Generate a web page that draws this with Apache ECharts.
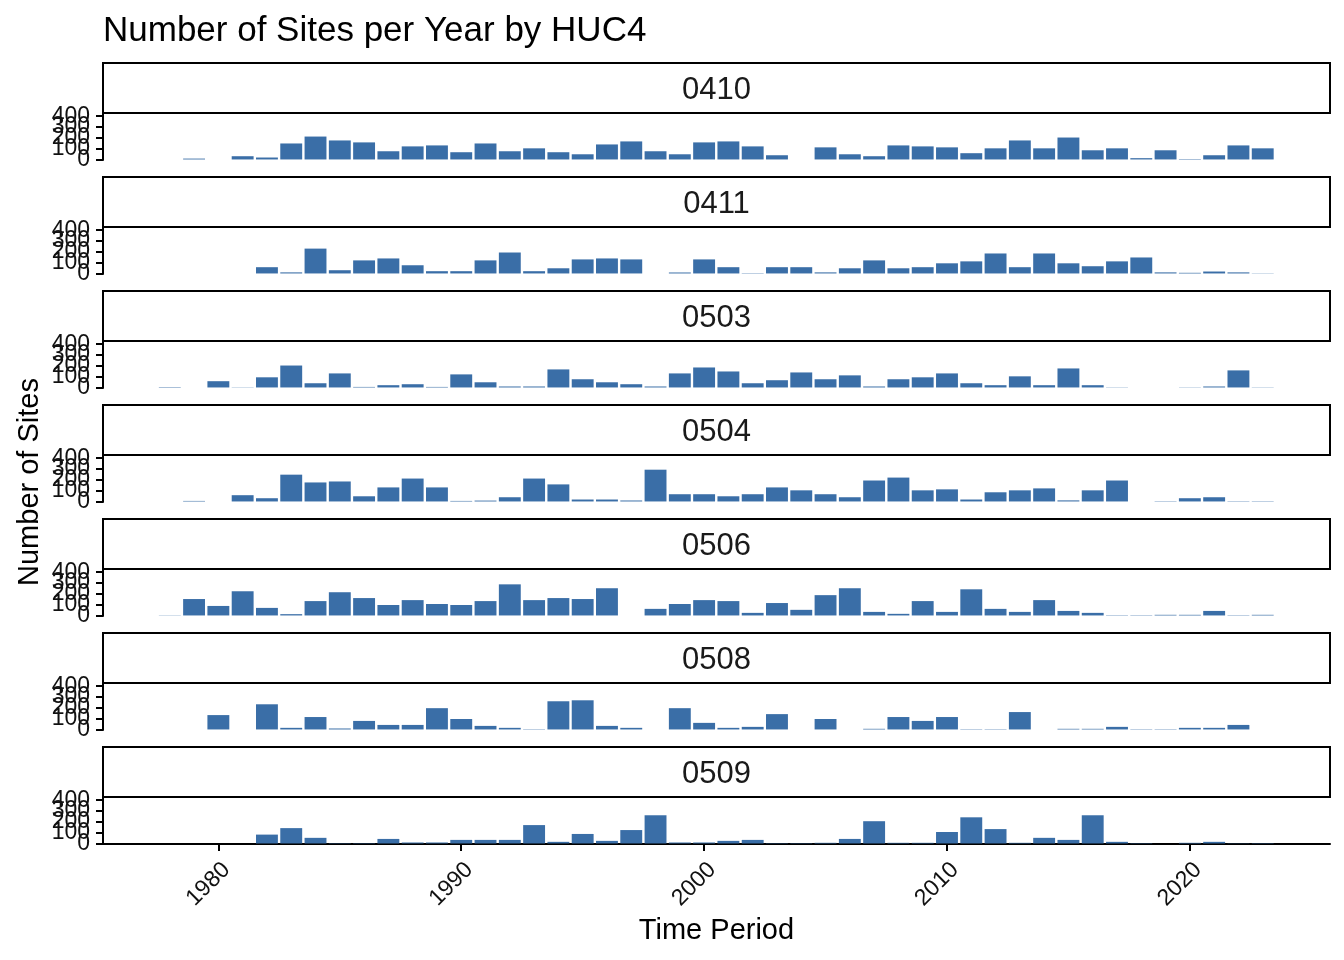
<!DOCTYPE html>
<html><head><meta charset="utf-8">
<script src="https://cdn.jsdelivr.net/npm/echarts@6/dist/echarts.min.js"></script>
<style>html,body{margin:0;padding:0;background:#fff}#c{width:1344px;height:960px}</style>
</head><body><div id="c"></div>
<script>
const years = [1978,1979,1980,1981,1982,1983,1984,1985,1986,1987,1988,1989,1990,1991,1992,1993,1994,1995,1996,1997,1998,1999,2000,2001,2002,2003,2004,2005,2006,2007,2008,2009,2010,2011,2012,2013,2014,2015,2016,2017,2018,2019,2020,2021,2022,2023];
const facets = ['0410','0411','0503','0504','0506','0508','0509'];
const v0410 = [null,8,null,30,18,148,212,176,158,76,121,130,67,148,76,103,67,48,139,167,76,48,158,167,121,39,null,112,48,30,130,121,112,58,103,176,103,203,85,103,12,85,4,39,130,103];
const v0411 = [null,null,null,null,58,10,230,30,121,139,76,21,21,121,194,21,48,130,139,130,null,9,130,58,3,58,58,10,48,121,48,58,94,112,185,58,185,94,67,112,148,10,6,18,10,2];
const v0503 = [4,null,58,2,94,203,39,130,5,21,30,5,121,48,9,9,167,76,48,30,9,130,185,148,39,67,139,76,112,9,76,94,130,39,21,103,21,176,21,2,null,null,2,9,158,2];
const v0504 = [null,5,null,58,30,248,176,185,48,130,212,130,5,8,39,212,158,18,18,9,294,67,67,48,67,130,103,67,39,194,221,103,112,18,85,103,121,10,103,194,null,3,30,39,3,3];
const v0506 = [2,152,88,224,70,12,133,215,161,97,142,106,97,133,288,142,161,152,252,null,61,106,142,133,24,115,52,188,252,33,15,133,33,242,61,33,142,42,24,3,3,6,6,42,3,6];
const v0508 = [null,null,133,null,233,15,115,9,79,42,42,197,97,33,15,3,261,270,33,15,null,197,61,15,24,142,null,97,null,6,115,79,115,3,3,161,null,6,6,24,3,3,15,15,42,null];
const v0509 = [null,null,null,null,82,142,52,3,3,42,9,9,33,33,33,170,15,88,24,124,261,9,9,24,33,3,3,6,42,206,6,6,106,242,133,6,52,33,261,15,3,null,6,15,2,3];
const facetValues = [v0410,v0411,v0503,v0504,v0506,v0508,v0509];
const yTicks = [0,100,200,300,400];
const xTicks = [1980,1990,2000,2010,2020];
const titleText = 'Number of Sites per Year by HUC4';
const xTitle = 'Time Period';
const yTitle = 'Number of Sites';

const FONT = "'Liberation Sans', Arial, Helvetica, sans-serif";
const BAR = '#3A6EA7';
const chart = echarts.init(document.getElementById('c'), null, {renderer:'canvas'});
const grids = [], xAxes = [], yAxes = [], series = [], graphics = [];
const PERIOD = 114, STRIP_TOP = 63, STRIP_H = 50, PANEL_H = 47;
const LEFT = 103, WIDTH = 1227;
const labelStyle = {fontSize: 23, color: '#111', fontFamily: FONT};

facets.forEach((f, i) => {
  const stripTop = STRIP_TOP + PERIOD * i;
  const panelTop = stripTop + STRIP_H;
  grids.push({left: LEFT, width: WIDTH, top: panelTop, height: PANEL_H, containLabel: false});
  const last = i === facets.length - 1;
  xAxes.push({
    type: 'value', gridIndex: i, min: 1975.25, max: 2025.77, show: last,
    axisLine: {show: true, onZero: false, lineStyle: {color: '#000', width: 2}},
    axisTick: {show: true, customValues: xTicks, length: 7, lineStyle: {color: '#000', width: 2}},
    axisLabel: Object.assign({customValues: xTicks, rotate: 45, align: 'right', verticalAlign: 'top', margin: 14,
      formatter: v => String(v)}, labelStyle),
    splitLine: {show: false}
  });
  const baseIndex = yAxes.length;
  // one y axis per tick label so that overlapping labels are all drawn (as in the reference)
  yTicks.forEach((t, k) => {
    yAxes.push({
      type: 'value', gridIndex: i, min: -5, max: 430, position: 'left', offset: 0,
      axisLine: {show: k === 0, onZero: false, lineStyle: {color: '#000', width: 2}},
      axisTick: {show: k === 0, customValues: yTicks, length: 7, lineStyle: {color: '#000', width: 2}},
      axisLabel: Object.assign({customValues: [t], margin: 13, showMinLabel: true, showMaxLabel: true,
        hideOverlap: false, formatter: v => String(v)}, labelStyle),
      splitLine: {show: false}
    });
  });
  const vals = facetValues[i];
  const data = [];
  years.forEach((y, k) => { if (vals[k] !== null) data.push([y, vals[k]]); });
  series.push({type: 'bar', name: f, xAxisIndex: i, yAxisIndex: baseIndex, data: data, barWidth: 21.9,
    itemStyle: {color: BAR}, silent: true});
  graphics.push({type: 'rect', shape: {x: LEFT, y: stripTop, width: WIDTH, height: STRIP_H},
    style: {fill: '#fff', stroke: '#000', lineWidth: 2}, z: 10});
  graphics.push({type: 'text', x: LEFT + WIDTH / 2, y: stripTop + STRIP_H / 2 + 2,
    style: {text: f, fontSize: 31, fontFamily: FONT, fill: '#1a1a1a', align: 'center', verticalAlign: 'middle'}, z: 11});
});

graphics.push({type: 'text', x: LEFT, y: 31,
  style: {text: titleText, fontSize: 35, fontFamily: FONT, fill: '#000', align: 'left', verticalAlign: 'middle'}});
graphics.push({type: 'text', x: LEFT + WIDTH / 2, y: 931,
  style: {text: xTitle, fontSize: 29, fontFamily: FONT, fill: '#000', align: 'center', verticalAlign: 'middle'}});
graphics.push({type: 'text', x: 30, y: 482, rotation: Math.PI / 2,
  style: {text: yTitle, fontSize: 29, fontFamily: FONT, fill: '#000', align: 'center', verticalAlign: 'middle'}});

chart.setOption({
  animation: false,
  backgroundColor: '#fff',
  grid: grids, xAxis: xAxes, yAxis: yAxes, series: series, graphic: graphics
});
</script></body></html>
